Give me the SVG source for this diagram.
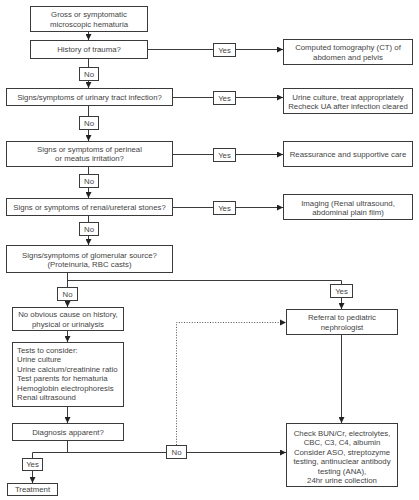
<svg xmlns="http://www.w3.org/2000/svg" width="419" height="500" viewBox="0 0 419 500">
<defs>
<style>
.b{fill:#fff;stroke:#3a3a3a;stroke-width:1}
.t{font-family:"Liberation Sans",Arial,sans-serif;font-size:7.8px;fill:#444;text-anchor:middle}
.l{text-anchor:start}
.c{fill:none;stroke:#3a3a3a;stroke-width:1}
.d{fill:none;stroke:#555;stroke-width:1;stroke-dasharray:1 1.6}
</style>
<marker id="a" viewBox="0 0 6 6" refX="6" refY="3" markerWidth="6" markerHeight="6" markerUnits="userSpaceOnUse" orient="auto">
<path d="M0,0 L6,3 L0,6 z" fill="#222"/>
</marker>
</defs>
<rect width="419" height="500" fill="#fff"/>
<g id="connectors">
<path class="c" d="M88.5,32 V40" marker-end="url(#a)"/>
<path class="c" d="M88.5,59 V67"/>
<path class="c" d="M88.5,81 V88" marker-end="url(#a)"/>
<path class="c" d="M88.5,106 V116"/>
<path class="c" d="M88.5,130 V141" marker-end="url(#a)"/>
<path class="c" d="M88.5,167 V174"/>
<path class="c" d="M88.5,188 V198" marker-end="url(#a)"/>
<path class="c" d="M88.5,216 V222"/>
<path class="c" d="M88.5,236 V245" marker-end="url(#a)"/>
<path class="c" d="M147,49.5 H213"/>
<path class="c" d="M236,49.5 H283" marker-end="url(#a)"/>
<path class="c" d="M172,97.5 H213"/>
<path class="c" d="M236,97.5 H283" marker-end="url(#a)"/>
<path class="c" d="M172,154.5 H213"/>
<path class="c" d="M236,154.5 H283" marker-end="url(#a)"/>
<path class="c" d="M172,207.5 H213"/>
<path class="c" d="M236,207.5 H283" marker-end="url(#a)"/>
<path class="c" d="M67.5,273 V287"/>
<path class="c" d="M67.5,280.5 H341.5 V284"/>
<path class="c" d="M67.5,301 V307" marker-end="url(#a)"/>
<path class="c" d="M341.5,298 V309" marker-end="url(#a)"/>
<path class="c" d="M67.5,331 V342" marker-end="url(#a)"/>
<path class="c" d="M67.5,407 V423" marker-end="url(#a)"/>
<path class="c" d="M67.5,441 V452.5"/>
<path class="c" d="M32.5,458 V452.5 H166"/>
<path class="c" d="M187,452.5 H286" marker-end="url(#a)"/>
<path class="c" d="M32.5,471 V483" marker-end="url(#a)"/>
<path class="d" d="M176.5,445 V322.5 H280"/>
<path d="M280,319.5 L286,322.5 L280,325.5 z" fill="#222"/>
<path class="c" d="M341.5,335 V423" marker-end="url(#a)"/>
</g>
<g id="n1"><rect class="b" x="30.5" y="6.5" width="117" height="25"/><text class="t" x="89" y="17.3">Gross or symptomatic</text><text class="t" x="89" y="26.8">microscopic hematuria</text></g>
<g id="n2"><rect class="b" x="30.5" y="40.5" width="117" height="18"/><text class="t" x="89" y="52.3">History of trauma?</text></g>
<g id="y1"><rect class="b" x="213.5" y="43.5" width="22" height="13"/><text class="t" x="224.5" y="52.6">Yes</text></g>
<g id="r1"><rect class="b" x="283.5" y="39.5" width="129" height="25"/><text class="t" x="348" y="50.3">Computed tomography (CT) of</text><text class="t" x="348" y="59.8">abdomen and pelvis</text></g>
<g id="no1"><rect class="b" x="79.5" y="67.5" width="19" height="13"/><text class="t" x="89" y="76.6">No</text></g>
<g id="n3"><rect class="b" x="6.5" y="88.5" width="166" height="17"/><text class="t" x="89.5" y="100">Signs/symptoms of urinary tract infection?</text></g>
<g id="y2"><rect class="b" x="213.5" y="91.5" width="22" height="13"/><text class="t" x="224.5" y="100.6">Yes</text></g>
<g id="r2"><rect class="b" x="283.5" y="88.5" width="129" height="25"/><text class="t" x="348" y="99.5">Urine culture, treat appropriately</text><text class="t" x="348" y="109">Recheck UA after infection cleared</text></g>
<g id="no2"><rect class="b" x="79.5" y="116.5" width="19" height="13"/><text class="t" x="89" y="125.6">No</text></g>
<g id="n4"><rect class="b" x="6.5" y="141.5" width="166" height="25"/><text class="t" x="89.5" y="151.5">Signs or symptoms of perineal</text><text class="t" x="89.5" y="161">or meatus irritation?</text></g>
<g id="y3"><rect class="b" x="213.5" y="148.5" width="22" height="13"/><text class="t" x="224.5" y="157.6">Yes</text></g>
<g id="r3"><rect class="b" x="283.5" y="141.5" width="129" height="25"/><text class="t" x="348" y="157.3">Reassurance and supportive care</text></g>
<g id="no3"><rect class="b" x="79.5" y="174.5" width="19" height="13"/><text class="t" x="89" y="183.6">No</text></g>
<g id="n5"><rect class="b" x="6.5" y="198.5" width="166" height="17"/><text class="t" x="89.5" y="210">Signs or symptoms of renal/ureteral stones?</text></g>
<g id="y4"><rect class="b" x="213.5" y="201.5" width="22" height="13"/><text class="t" x="224.5" y="210.6">Yes</text></g>
<g id="r4"><rect class="b" x="283.5" y="194.5" width="129" height="25"/><text class="t" x="348" y="205.5">Imaging (Renal ultrasound,</text><text class="t" x="348" y="215">abdominal plain film)</text></g>
<g id="no4"><rect class="b" x="79.5" y="222.5" width="19" height="13"/><text class="t" x="89" y="231.6">No</text></g>
<g id="n6"><rect class="b" x="6.5" y="245.5" width="166" height="27"/><text class="t" x="89.5" y="257.8">Signs/symptoms of glomerular source?</text><text class="t" x="89.5" y="267.3">(Proteinuria, RBC casts)</text></g>
<g id="no5"><rect class="b" x="57.5" y="287.5" width="20" height="13"/><text class="t" x="67.5" y="296.6">No</text></g>
<g id="y5"><rect class="b" x="330.5" y="284.5" width="22" height="13"/><text class="t" x="341.5" y="293.6">Yes</text></g>
<g id="n7"><rect class="b" x="12.5" y="307.5" width="111" height="23"/><text class="t" x="68" y="317">No obvious cause on history,</text><text class="t" x="68" y="326.5">physical or urinalysis</text></g>
<g id="n8"><rect class="b" x="12.5" y="342.5" width="111" height="64"/>
<text class="t l" x="17" y="352.5">Tests to consider:</text>
<text class="t l" x="17" y="362">Urine culture</text>
<text class="t l" x="17" y="371.5">Urine calcium/creatinine ratio</text>
<text class="t l" x="17" y="381">Test parents for hematuria</text>
<text class="t l" x="17" y="390.5">Hemoglobin electrophoresis</text>
<text class="t l" x="17" y="400">Renal ultrasound</text></g>
<g id="n9"><rect class="b" x="12.5" y="423.5" width="111" height="17"/><text class="t" x="68" y="435">Diagnosis apparent?</text></g>
<g id="no6"><rect class="b" x="166.5" y="445.5" width="20" height="13"/><text class="t" x="176.5" y="454.6">No</text></g>
<g id="y6"><rect class="b" x="22.5" y="458.5" width="20" height="12"/><text class="t" x="32.5" y="467.2">Yes</text></g>
<g id="n10"><rect class="b" x="7.5" y="483.5" width="50" height="12"/><text class="t" x="32.5" y="492.3">Treatment</text></g>
<g id="n11"><rect class="b" x="286.5" y="309.5" width="111" height="25"/><text class="t" x="342" y="320">Referral to pediatric</text><text class="t" x="342" y="329.5">nephrologist</text></g>
<g id="n12"><rect class="b" x="286.5" y="423.5" width="111" height="63"/>
<text class="t" x="342" y="435.5">Check BUN/Cr, electrolytes,</text>
<text class="t" x="342" y="445">CBC, C3, C4, albumin</text>
<text class="t" x="342" y="454.5">Consider ASO, streptozyme</text>
<text class="t" x="342" y="464">testing, antinuclear antibody</text>
<text class="t" x="342" y="473.5">testing (ANA),</text>
<text class="t" x="342" y="483">24hr urine collection</text></g>
</svg>
